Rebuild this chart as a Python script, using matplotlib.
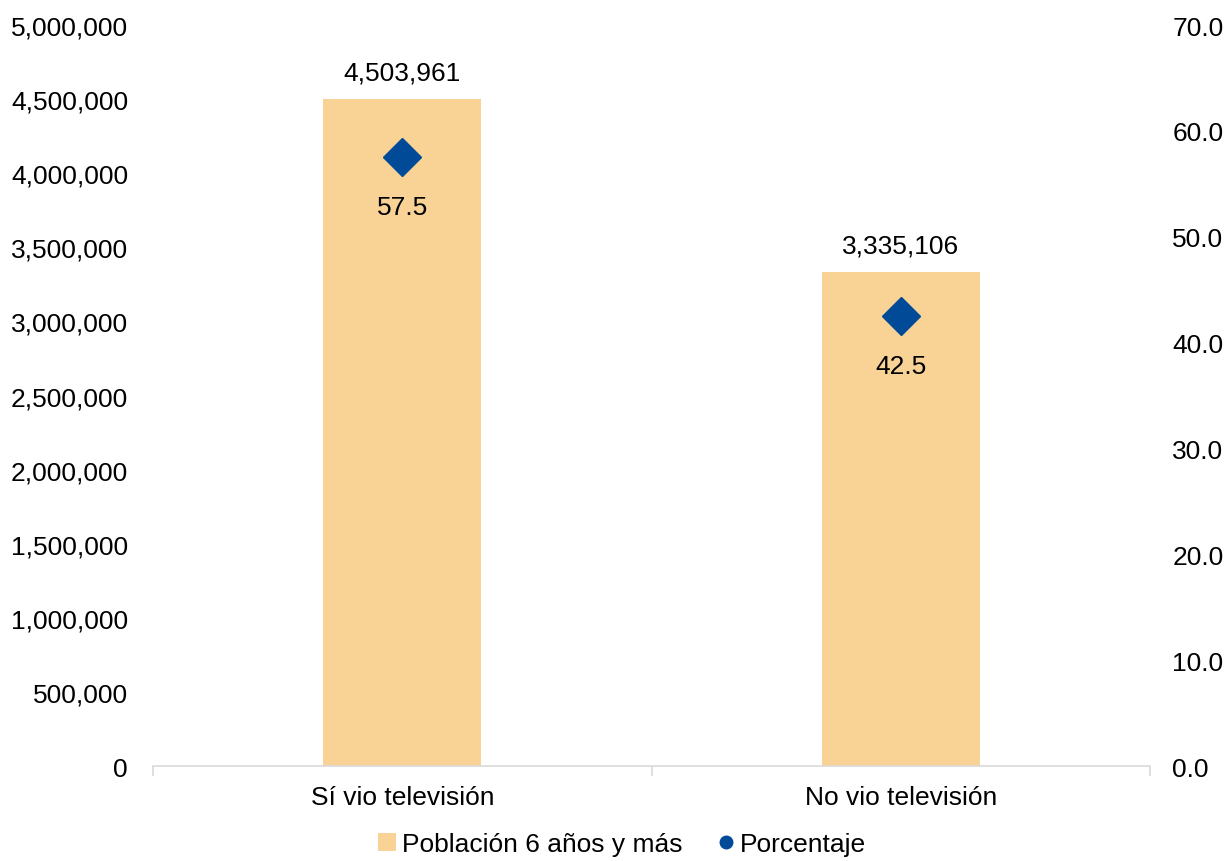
import matplotlib
matplotlib.use('Agg')
import matplotlib.pyplot as plt
from matplotlib.lines import Line2D
from matplotlib.patches import Patch

categories = ['Sí vio televisión', 'No vio televisión']
poblacion = [4503961, 3335106]
porcentaje = [57.5, 42.5]
left_ticks = [0, 500000, 1000000, 1500000, 2000000, 2500000, 3000000, 3500000, 4000000, 4500000, 5000000]
right_ticks = [0, 10, 20, 30, 40, 50, 60, 70]

bar_color = '#F9D396'
dot_color = '#004A98'
grey = '#D9D9D9'

plt.rcParams['font.family'] = ['Liberation Sans', 'DejaVu Sans']
plt.rcParams['font.size'] = 19

fig = plt.figure(figsize=(12.28, 8.62), dpi=100)
ax = fig.add_axes([0.1246, 0.1102, 0.8119, 0.8596])
x = list(range(len(categories)))
bars = ax.bar(x, poblacion, width=0.317, color=bar_color, zorder=2)
ax.set_xlim(-0.5, 1.5)
ax.set_ylim(0, 5000000)
ax.set_yticks(left_ticks)
ax.set_yticklabels([f'{v:,}' for v in left_ticks])
ax.tick_params(axis='y', length=0, pad=18)
ax.set_xticks(x)
ax.set_xticklabels(categories)
ax.tick_params(axis='x', length=0, pad=14)
ax.set_xticks([-0.5, 0.5, 1.5], minor=True)
ax.tick_params(axis='x', which='minor', length=7, color=grey, width=1.2)
for s in ['top', 'left', 'right']:
    ax.spines[s].set_visible(False)
ax.spines['bottom'].set_color(grey)
ax.spines['bottom'].set_linewidth(1.2)

for b, v in zip(bars, poblacion):
    ax.annotate(f'{v:,}', (b.get_x() + b.get_width() / 2, v), xytext=(0, 10),
                textcoords='offset points', ha='center', va='bottom')

ax2 = ax.twinx()
ax2.set_ylim(0, 70)
ax2.set_yticks(right_ticks)
ax2.set_yticklabels([f'{v:.1f}' for v in right_ticks])
ax2.tick_params(axis='y', length=0, pad=16)
for s in ax2.spines.values():
    s.set_visible(False)
ax2.plot(x, porcentaje, linestyle='none', marker='D', markersize=19, color=dot_color, zorder=3)
for xi, v in zip(x, porcentaje):
    ax2.annotate(f'{v:.1f}', (xi, v), xytext=(0, -36), textcoords='offset points',
                 ha='center', va='center')

handles = [Patch(facecolor=bar_color, label='Población 6 años y más'),
           Line2D([], [], linestyle='none', marker='o', color=dot_color, markersize=9, label='Porcentaje')]
fig.legend(handles=handles, loc='lower center', bbox_to_anchor=(0.5065, -0.022), ncol=2, frameon=False,
           handlelength=0.7, handleheight=0.7, handletextpad=0.2, columnspacing=1.3)

plt.savefig('out.png', dpi=100)
